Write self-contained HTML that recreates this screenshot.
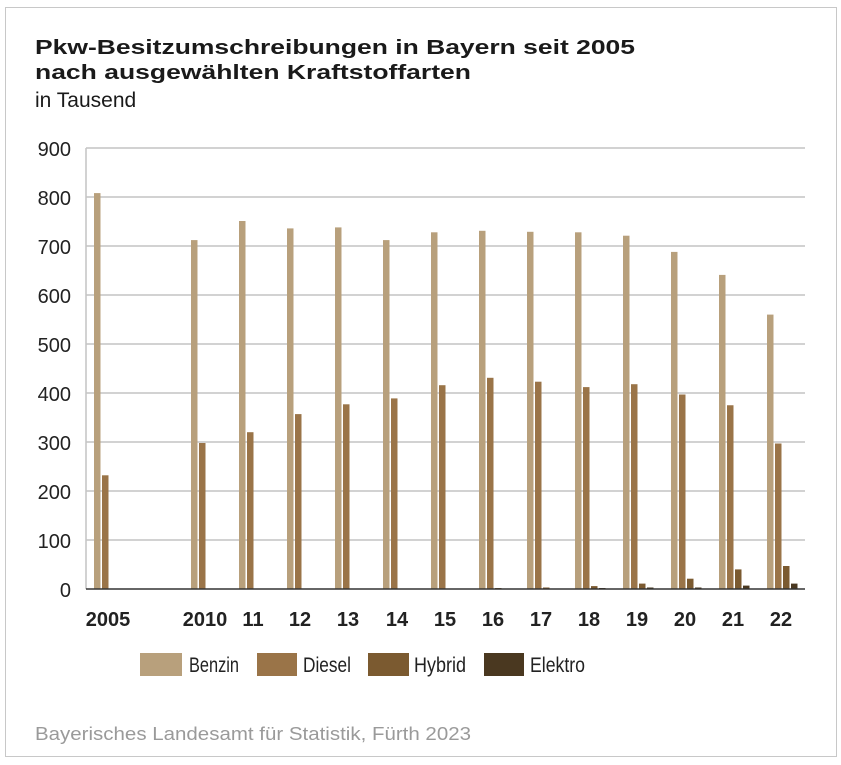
<!DOCTYPE html>
<html><head><meta charset="utf-8"><style>
body{margin:0;background:#fff;}
svg{display:block;}
</style></head><body>
<svg width="841" height="765" xmlns="http://www.w3.org/2000/svg" font-family="Liberation Sans, sans-serif">
<rect x="5.5" y="7.5" width="831" height="749" fill="#fff" stroke="#c8c8c8" stroke-width="1"/>
<text x="35" y="54" font-size="20" font-weight="bold" fill="#1a1a1a" textLength="600" lengthAdjust="spacingAndGlyphs">Pkw-Besitzumschreibungen in Bayern seit 2005</text>
<text x="35" y="79" font-size="20" font-weight="bold" fill="#1a1a1a" textLength="436" lengthAdjust="spacingAndGlyphs">nach ausgewählten Kraftstoffarten</text>
<text x="35" y="107" font-size="21" fill="#1a1a1a">in Tausend</text>
<g stroke="#c4c4c4" stroke-width="1.5">
<line x1="86" y1="148" x2="805" y2="148"/><line x1="86" y1="197" x2="805" y2="197"/>
<line x1="86" y1="246" x2="805" y2="246"/><line x1="86" y1="295" x2="805" y2="295"/>
<line x1="86" y1="344" x2="805" y2="344"/><line x1="86" y1="393" x2="805" y2="393"/>
<line x1="86" y1="442" x2="805" y2="442"/><line x1="86" y1="491" x2="805" y2="491"/>
<line x1="86" y1="540" x2="805" y2="540"/>
<line x1="86" y1="148" x2="86" y2="589"/>
</g>
<g font-size="20" fill="#222" text-anchor="end">
<text x="71" y="156">900</text><text x="71" y="205">800</text><text x="71" y="254">700</text>
<text x="71" y="303">600</text><text x="71" y="352">500</text><text x="71" y="401">400</text>
<text x="71" y="450">300</text><text x="71" y="499">200</text><text x="71" y="548">100</text>
<text x="71" y="597">0</text>
</g>
<g fill="#b8a07c">
<rect x="94" y="193.1" width="6.5" height="395.9"/>
<rect x="191" y="240.1" width="6.5" height="348.9"/>
<rect x="239" y="221" width="6.5" height="368"/>
<rect x="287" y="228.4" width="6.5" height="360.6"/>
<rect x="335" y="227.4" width="6.5" height="361.6"/>
<rect x="383" y="240.1" width="6.5" height="348.9"/>
<rect x="431" y="232.3" width="6.5" height="356.7"/>
<rect x="479" y="230.8" width="6.5" height="358.2"/>
<rect x="527" y="231.8" width="6.5" height="357.2"/>
<rect x="575" y="232.3" width="6.5" height="356.7"/>
<rect x="623" y="235.7" width="6.5" height="353.3"/>
<rect x="671" y="251.9" width="6.5" height="337.1"/>
<rect x="719" y="274.9" width="6.5" height="314.1"/>
<rect x="767" y="314.6" width="6.5" height="274.4"/>
</g>
<g fill="#9a7448">
<rect x="102" y="475.3" width="6.5" height="113.7"/>
<rect x="199" y="443" width="6.5" height="146"/>
<rect x="247" y="432.2" width="6.5" height="156.8"/>
<rect x="295" y="414.1" width="6.5" height="174.9"/>
<rect x="343" y="404.3" width="6.5" height="184.7"/>
<rect x="391" y="398.4" width="6.5" height="190.6"/>
<rect x="439" y="385.2" width="6.5" height="203.8"/>
<rect x="487" y="377.8" width="6.5" height="211.2"/>
<rect x="535" y="381.7" width="6.5" height="207.3"/>
<rect x="583" y="387.1" width="6.5" height="201.9"/>
<rect x="631" y="384.2" width="6.5" height="204.8"/>
<rect x="679" y="394.5" width="6.5" height="194.5"/>
<rect x="727" y="405.25" width="6.5" height="183.75"/>
<rect x="775" y="443.5" width="6.5" height="145.5"/>
</g>
<g fill="#7b5a30">
<rect x="495" y="588" width="6.5" height="1"/>
<rect x="543" y="587.5" width="6.5" height="1.5"/>
<rect x="591" y="586.1" width="6.5" height="2.9"/>
<rect x="639" y="583.6" width="6.5" height="5.4"/>
<rect x="687" y="578.7" width="6.5" height="10.3"/>
<rect x="735" y="569.4" width="6.5" height="19.6"/>
<rect x="783" y="566" width="6.5" height="23"/>
</g>
<g fill="#4a3820">
<rect x="599" y="588" width="6.5" height="1"/>
<rect x="647" y="587.5" width="6.5" height="1.5"/>
<rect x="695" y="587.5" width="6.5" height="1.5"/>
<rect x="743" y="585.6" width="6.5" height="3.4"/>
<rect x="791" y="583.6" width="6.5" height="5.4"/>
</g>
<line x1="86" y1="589" x2="805" y2="589" stroke="#333" stroke-width="1.5"/>
<g font-size="20" font-weight="bold" fill="#222" text-anchor="middle">
<text x="108" y="626">2005</text><text x="205" y="626">2010</text><text x="253" y="626">11</text>
<text x="300" y="626">12</text><text x="348" y="626">13</text><text x="397" y="626">14</text>
<text x="445" y="626">15</text><text x="493" y="626">16</text><text x="541" y="626">17</text>
<text x="589" y="626">18</text><text x="637" y="626">19</text><text x="685" y="626">20</text>
<text x="733" y="626">21</text><text x="781" y="626">22</text>
</g>
<g font-size="21" fill="#222" lengthAdjust="spacingAndGlyphs">
<rect x="140" y="653" width="42" height="23" fill="#b8a07c"/><text x="189" y="672" textLength="50" lengthAdjust="spacingAndGlyphs">Benzin</text>
<rect x="257" y="653" width="40" height="23" fill="#9a7448"/><text x="303" y="672" textLength="48" lengthAdjust="spacingAndGlyphs">Diesel</text>
<rect x="368" y="653" width="41" height="23" fill="#7b5a30"/><text x="414" y="672" textLength="52" lengthAdjust="spacingAndGlyphs">Hybrid</text>
<rect x="484" y="653" width="40" height="23" fill="#4a3820"/><text x="530" y="672" textLength="55" lengthAdjust="spacingAndGlyphs">Elektro</text>
</g>
<text x="35" y="740" font-size="18" fill="#9a9a9a" textLength="436" lengthAdjust="spacingAndGlyphs">Bayerisches Landesamt für Statistik, Fürth 2023</text>
</svg>
</body></html>
